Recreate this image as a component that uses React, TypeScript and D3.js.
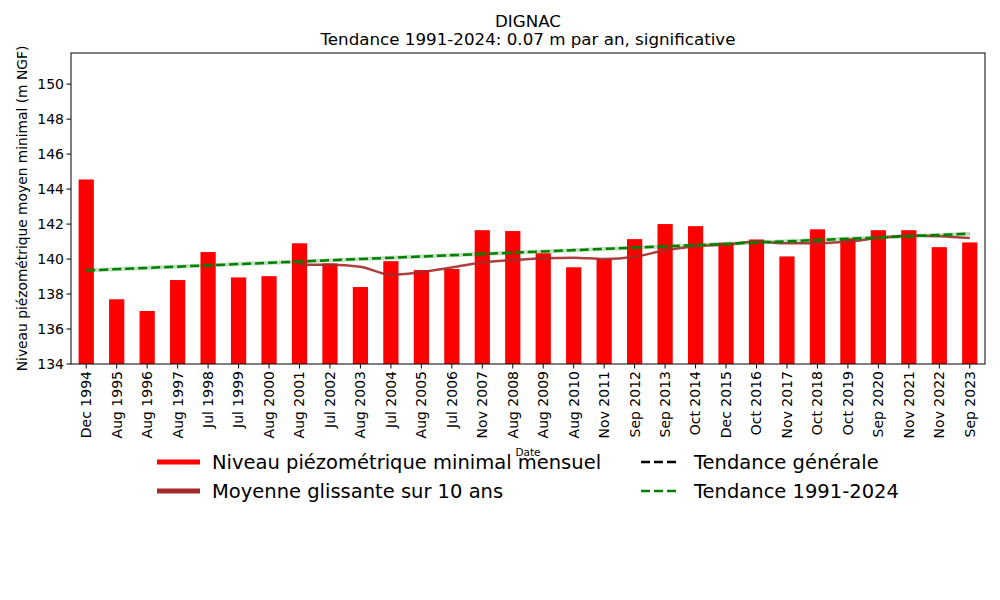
import React from "react";
import * as d3 from "d3";

const categories = ["Dec 1994","Aug 1995","Aug 1996","Aug 1997","Jul 1998","Jul 1999","Aug 2000","Aug 2001","Jul 2002","Aug 2003","Jul 2004","Aug 2005","Jul 2006","Nov 2007","Aug 2008","Aug 2009","Aug 2010","Nov 2011","Sep 2012","Sep 2013","Oct 2014","Dec 2015","Oct 2016","Nov 2017","Oct 2018","Oct 2019","Sep 2020","Nov 2021","Nov 2022","Sep 2023"];
const levels = [144.55,137.7,137.03,138.8,140.4,138.95,139.02,140.9,139.75,138.4,139.88,139.37,139.43,141.65,141.6,140.33,139.53,140.0,141.14,142.0,141.88,140.93,141.12,140.15,141.7,141.18,141.65,141.65,140.68,140.95];
const movingAvg: (number | null)[] = [null,null,null,null,null,null,null,139.68,139.68,139.56,139.1,139.26,139.52,139.8,139.94,140.05,140.08,140.0,140.13,140.5,140.72,140.83,141.0,140.9,140.9,141.0,141.2,141.35,141.3,141.2];
const trendIdx = [0, 29];
const trendVals = [139.35, 141.45];
const yTicks = [134,136,138,140,142,144,146,148,150];

const W = 1000, H = 600;
const L = 71, R = 985, T = 53, B = 364;
const font = "DejaVu Sans, sans-serif";

export default function App() {
  const x = d3.scaleLinear().domain([-0.5, categories.length - 0.5]).range([L, R]);
  const y = d3.scaleLinear().domain([134, 151.78]).range([B, T]);
  const bw = x(0.25) - x(0);
  const line = d3.line<[number, number]>().x(d => x(d[0])).y(d => y(d[1])).curve(d3.curveMonotoneX);
  const maPts: [number, number][] = movingAvg.map((v, i) => [i, v] as [number, number]).filter(d => d[1] !== null) as [number, number][];
  const trPts: [number, number][] = trendIdx.map((i, k) => [i, trendVals[k]]);
  const lin = d3.line<[number, number]>().x(d => x(d[0])).y(d => y(d[1]));
  return (
    <svg width={W} height={H} style={{ position: "absolute", left: 0, top: 0, background: "#fff" }} fontFamily={font}>
      <rect x={0} y={0} width={W} height={H} fill="#fff" />
      <text x={528} y={27} fontSize={16.7} textAnchor="middle">DIGNAC</text>
      <text x={528} y={45} fontSize={16.7} textAnchor="middle">Tendance 1991-2024: 0.07 m par an, significative</text>
      {levels.map((v, i) => (
        <rect key={i} x={x(i) - bw} y={y(v)} width={bw * 2} height={B - y(v)} fill="#ff0000" />
      ))}
      <path d={line(maPts) || ""} fill="none" stroke="#a52a2a" strokeWidth={2.5} strokeOpacity={0.9} />
      <path d={lin(trPts) || ""} fill="none" stroke="#008000" strokeOpacity={0.25} strokeWidth={4} />
      <path d={lin(trPts) || ""} fill="none" stroke="#008000" strokeWidth={2.5} strokeDasharray="9,4" />
      <rect x={L} y={T} width={R - L} height={B - T} fill="none" stroke="#000" strokeWidth={1} />
      {yTicks.map(t => (
        <g key={t}>
          <line x1={L - 4.5} x2={L} y1={y(t)} y2={y(t)} stroke="#000" />
          <text x={L - 7} y={y(t)} dy="0.35em" fontSize={14} textAnchor="end">{t}</text>
        </g>
      ))}
      {categories.map((c, i) => (
        <g key={c}>
          <line x1={x(i)} x2={x(i)} y1={B} y2={B + 4.5} stroke="#000" />
          <text transform={`translate(${x(i)},${B + 7}) rotate(-90)`} dy="0.35em" fontSize={14} textAnchor="end">{c}</text>
        </g>
      ))}
      <text x={528} y={452} dy="0.35em" fontSize={10.5} textAnchor="middle">Date</text>
      <text transform={`translate(27,${(T + B) / 2}) rotate(-90)`} fontSize={13.8} textAnchor="middle">Niveau piézométrique moyen minimal (m NGF)</text>
      <g fontSize={19.5}>
        <line x1={157} x2={200} y1={462} y2={462} stroke="#ff0000" strokeWidth={5} />
        <text x={212} y={462} dy="0.35em">Niveau piézométrique minimal mensuel</text>
        <line x1={157} x2={200} y1={491} y2={491} stroke="#a52a2a" strokeWidth={5} />
        <text x={212} y={491} dy="0.35em">Moyenne glissante sur 10 ans</text>
        <line x1={641} x2={680} y1={462} y2={462} stroke="#000" strokeWidth={2.5} strokeDasharray="9,4" />
        <text x={694} y={462} dy="0.35em">Tendance générale</text>
        <line x1={641} x2={680} y1={491} y2={491} stroke="#008000" strokeWidth={2.5} strokeDasharray="9,4" />
        <text x={694} y={491} dy="0.35em">Tendance 1991-2024</text>
      </g>
    </svg>
  );
}
